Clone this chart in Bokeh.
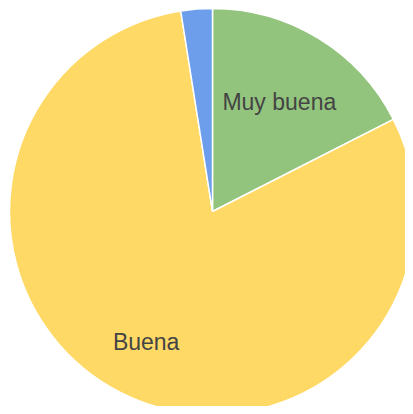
import math
from bokeh.plotting import figure
from bokeh.models import ColumnDataSource, Range1d
from bokeh.core.properties import value
from bokeh.embed import file_html
from bokeh.resources import INLINE

categories = ["Muy buena", "Buena", "Regular"]
counts = [7, 32, 1]
colors = ["#93C47D", "#FFD966", "#6D9EEB"]
labels = ["Muy buena", "Buena", ""]
label_frac = [0.63, 0.72, 0.7]

W, H = 405, 406
cx, cy = 212, H - 211
R = 203

total = sum(counts)
starts, ends, lx, ly = [], [], [], []
acc = 0.0
for c, f in zip(counts, label_frac):
    a0 = acc / total * 2 * math.pi
    acc += c
    a1 = acc / total * 2 * math.pi
    starts.append(math.pi / 2 - a0)
    ends.append(math.pi / 2 - a1)
    mid = (a0 + a1) / 2
    lx.append(cx + f * R * math.sin(mid))
    ly.append(cy + f * R * math.cos(mid))

src = ColumnDataSource(dict(cat=categories, start=starts, end=ends, color=colors,
                            x=[cx] * len(counts), y=[cy] * len(counts)))
lsrc = ColumnDataSource(dict(x=lx, y=ly, text=labels))

p = figure(width=W, height=H, output_backend="svg", toolbar_location=None,
           x_range=Range1d(0, W), y_range=Range1d(0, H), min_border=0)
p.axis.visible = False
p.grid.visible = False
p.outline_line_color = None
p.background_fill_color = "white"

p.wedge(x="x", y="y", radius=R, start_angle="start", end_angle="end", direction="clock",
        fill_color="color", line_color="white", line_width=1.5, source=src)
p.text(x="x", y="y", text="text", source=lsrc, text_align="center", text_baseline="middle",
       text_font=value("Liberation Sans"), text_font_size="23px", text_color="#444444")

open("out.html", "w").write(file_html(p, INLINE))
